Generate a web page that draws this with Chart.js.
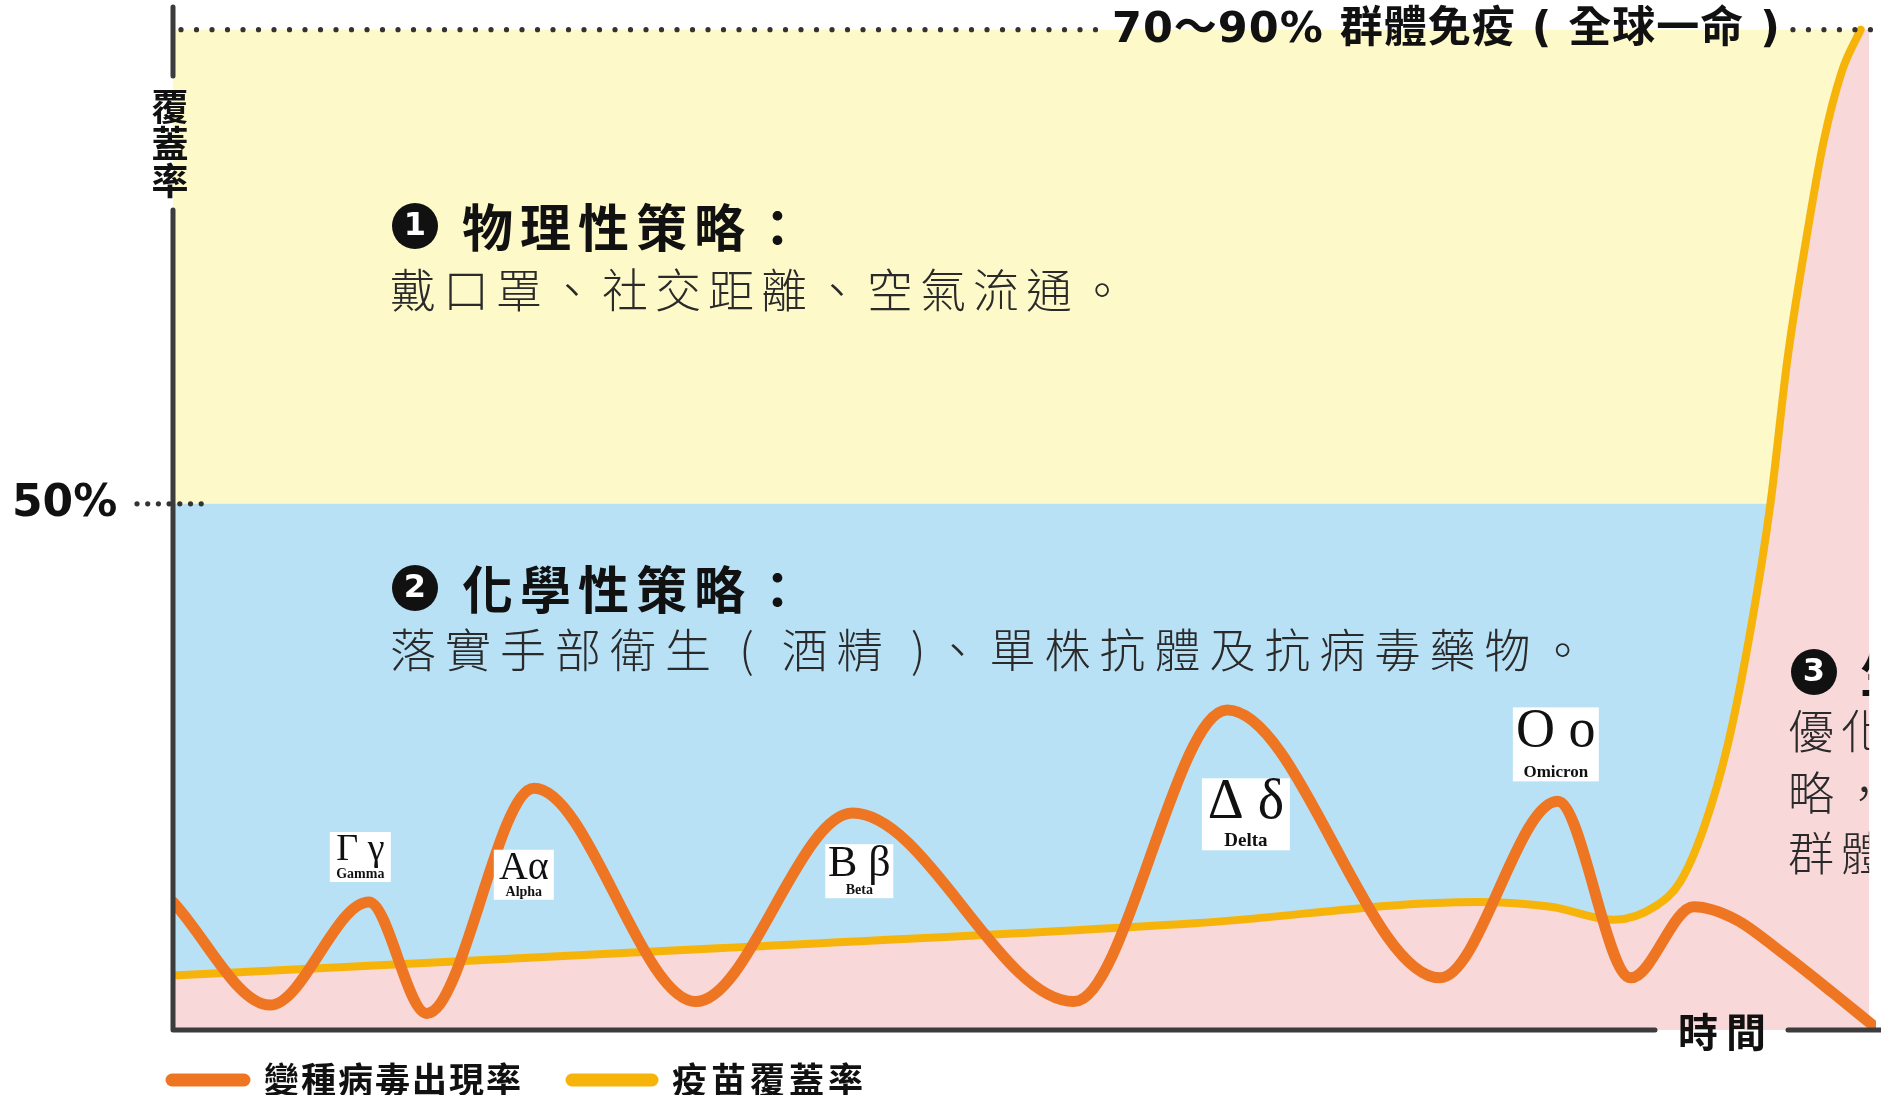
<!DOCTYPE html>
<html>
<head>
<meta charset="utf-8">
<script src="https://cdn.jsdelivr.net/npm/chart.js@4.4.1/dist/chart.umd.min.js"></script>
<style>
  html, body { margin: 0; padding: 0; background: #fff; }
  canvas { display: block; }
</style>
</head>
<body>
<canvas id="myChart" width="1881" height="1095"></canvas>
<script>
// 變種病毒出現率 (time 0-100, rate in % of the coverage scale)
const variantX = [0, 5.7, 11.5, 14.9, 21.2, 30.7, 39.9, 52.9, 61.9, 74.4, 81.3, 85.6, 89.3, 91.8, 94.5, 97.5, 99.9];
const variantY = [16.4, 7.7, 16.4, 7.0, 26.0, 8.0, 23.9, 8.0, 32.6, 10.0, 24.9, 10.0, 16.0, 14.9, 12.1, 8.7, 5.9];

// 疫苗覆蓋率
const vaccineX = [0, 32, 60, 76.6, 80.9, 84.6, 87.1, 88.5, 89.9, 91.3, 92.7, 93.8, 94.8, 95.9, 96.9, 98.0, 99.1];
const vaccineY = [10.2, 12.5, 14.6, 16.4, 16.0, 14.9, 16.1, 18.1, 22.7, 29.7, 39.9, 50.0, 62.2, 72.3, 80.4, 86.5, 90.0];

// strategy bands
const bandTop = 90;
const bandMid = 50;
const bandEnd = 99.6;

// variant labels
const variantNames = ['Gamma', 'Alpha', 'Beta', 'Delta', 'Omicron'];
const variantGlyphs = ['Γ γ', 'Αα', 'Β β', 'Δ δ', 'Ο ο'];
const labelX = [11.0, 20.6, 40.3, 63.0, 81.2];
const labelY = [20.2, 18.7, 19.0, 23.8, 29.7];

const seriesNames = ['變種病毒出現率', '疫苗覆蓋率'];

const ORANGE = '#ee7623';
const GOLD = '#f6b40a';
const AXIS = '#3c3b3d';
const CJK = '"Noto Sans CJK TC", "Noto Sans CJK SC", sans-serif';
const SERIF = '"Liberation Serif", "DejaVu Serif", serif';

function pts(xs, ys) {
    return xs.map((v, i) => ({ x: v, y: ys[i] }));
}

function dots(ctx, x0, x1, yy, step, r) {
    ctx.fillStyle = '#333';
    for (let px = x0; px <= x1; px += step) {
        ctx.beginPath();
        ctx.arc(px, yy, r, 0, Math.PI * 2);
        ctx.fill();
    }
}

function badge(ctx, cx, cy, num) {
    ctx.fillStyle = '#111';
    ctx.beginPath();
    ctx.arc(cx, cy, 23, 0, Math.PI * 2);
    ctx.fill();
    ctx.fillStyle = '#fff';
    ctx.font = 'bold 32px "DejaVu Sans"';
    ctx.textAlign = 'center';
    ctx.textBaseline = 'middle';
    ctx.letterSpacing = '0px';
    ctx.fillText(num, cx, cy + 1);
}

const decor = {
    id: 'decor',
    afterDatasetsDraw(chart) {
        const { ctx, chartArea, scales: { x, y } } = chart;
        const left = chartArea.left, bottom = chartArea.bottom;
        const topY = y.getPixelForValue(bandTop);
        const midY = y.getPixelForValue(bandMid);
        ctx.save();

        // axes
        ctx.strokeStyle = AXIS;
        ctx.lineWidth = 5;
        ctx.lineCap = 'round';
        ctx.lineJoin = 'round';
        ctx.beginPath();
        ctx.moveTo(left, chartArea.top + 1);
        ctx.lineTo(left, 76);
        ctx.stroke();
        ctx.beginPath();
        ctx.moveTo(left, 210);
        ctx.lineTo(left, bottom);
        ctx.lineTo(1655, bottom);
        ctx.stroke();
        ctx.beginPath();
        ctx.moveTo(1788, bottom);
        ctx.lineTo(1885, bottom);
        ctx.stroke();

        // y axis title
        ctx.fillStyle = '#111';
        ctx.font = 'bold 37px ' + CJK;
        ctx.textAlign = 'center';
        ctx.textBaseline = 'middle';
        ['覆', '蓋', '率'].forEach((c, i) => ctx.fillText(c, left - 3, 107 + i * 37));

        // x axis title
        ctx.font = 'bold 40px ' + CJK;
        ctx.letterSpacing = '8px';
        ctx.fillText('時間', 1726, bottom + 2);
        ctx.letterSpacing = '0px';

        // 50% marker
        ctx.textAlign = 'left';
        ctx.font = 'bold 44px "DejaVu Sans"';
        ctx.fillText('50%', 12, midY + 1);
        dots(ctx, 137, 205, midY, 10.7, 2.6);

        // top herd immunity line
        ctx.fillStyle = '#111';
        ctx.font = 'bold 43px "DejaVu Sans", ' + CJK;
        ctx.letterSpacing = '1px';
        const herd = '70～90% 群體免疫 ( 全球一命 )';
        const hx = 1112;
        const hw = ctx.measureText(herd).width;
        ctx.fillText(herd, hx, topY + 1);
        ctx.letterSpacing = '0px';
        dots(ctx, left + 8, hx - 14, topY, 15.5, 2.6);
        dots(ctx, hx + hw + 12, 1885, topY, 15.5, 2.6);

        // strategy text 1 and 2
        badge(ctx, 415, 226, '1');
        badge(ctx, 415, 588, '2');
        ctx.fillStyle = '#111';
        ctx.textAlign = 'left';
        ctx.textBaseline = 'middle';
        ctx.font = 'bold 51px ' + CJK;
        ctx.letterSpacing = '7px';
        ctx.fillText('物理性策略：', 462, 228);
        ctx.fillText('化學性策略：', 462, 590);
        ctx.font = '300 46px ' + CJK;
        ctx.fillStyle = '#2a2a2a';
        ctx.letterSpacing = '7px';
        ctx.fillText('戴口罩、社交距離、空氣流通。', 390, 290);
        ctx.letterSpacing = '9px';
        ctx.fillText('落實手部衛生 ( 酒精 )、單株抗體及抗病毒藥物。', 390, 650);

        // strategy text 3 (cut at the right edge)
        ctx.save();
        ctx.beginPath();
        ctx.rect(0, 0, x.getPixelForValue(bandEnd), 1095);
        ctx.clip();
        badge(ctx, 1814, 672, '3');
        ctx.fillStyle = '#111';
        ctx.textAlign = 'left';
        ctx.font = 'bold 51px ' + CJK;
        ctx.letterSpacing = '7px';
        ctx.fillText('生物性策略：', 1860, 674);
        ctx.font = '300 46px ' + CJK;
        ctx.letterSpacing = '7px';
        ctx.fillStyle = '#2a2a2a';
        ctx.fillText('優化疫苗接種策', 1788, 731);
        ctx.fillText('略，加速達成', 1788, 793);
        ctx.fillText('群體免疫。', 1788, 853);
        ctx.restore();
        ctx.letterSpacing = '0px';

        // variant labels
        const boxStyle = [
            { w: 61, h: 50, g: 38, n: 14 },
            { w: 60, h: 50, g: 40, n: 14 },
            { w: 68, h: 54, g: 44, n: 14 },
            { w: 88, h: 72, g: 56, n: 19 },
            { w: 86, h: 74, g: 54, n: 17 }
        ];
        labelX.forEach((lx, i) => {
            const cx = x.getPixelForValue(lx);
            const cy = y.getPixelForValue(labelY[i]);
            const s = boxStyle[i];
            const top = cy - s.h / 2;
            ctx.fillStyle = '#fff';
            ctx.fillRect(cx - s.w / 2, top, s.w, s.h);
            ctx.fillStyle = '#111';
            ctx.textAlign = 'center';
            ctx.textBaseline = 'alphabetic';
            ctx.font = s.g + 'px ' + SERIF;
            ctx.fillText(variantGlyphs[i], cx, top + 3 + s.g * 0.66);
            ctx.font = 'bold ' + s.n + 'px ' + SERIF;
            ctx.fillText(variantNames[i], cx, top + s.h - 4);
        });

        // legend
        const ds = chart.data.datasets;
        const legendY = 1080;
        const items = [
            { x0: 172, x1: 244, tx: 264, sp: 2, color: ds[0].borderColor, label: ds[0].label },
            { x0: 572, x1: 652, tx: 672, sp: 4, color: ds[1].borderColor, label: ds[1].label }
        ];
        items.forEach(it => {
            ctx.strokeStyle = it.color;
            ctx.lineWidth = 13;
            ctx.lineCap = 'round';
            ctx.beginPath();
            ctx.moveTo(it.x0, legendY);
            ctx.lineTo(it.x1, legendY);
            ctx.stroke();
            ctx.fillStyle = '#111';
            ctx.textAlign = 'left';
            ctx.textBaseline = 'middle';
            ctx.font = 'bold 35px ' + CJK;
            ctx.letterSpacing = it.sp + 'px';
            ctx.fillText(it.label, it.tx, legendY);
        });
        ctx.restore();
    }
};

const ctx = document.getElementById('myChart').getContext('2d');
new Chart(ctx, {
    type: 'line',
    data: {
        datasets: [
            {
                label: seriesNames[0],
                data: pts(variantX, variantY),
                borderColor: ORANGE,
                borderWidth: 11,
                borderCapStyle: 'round',
                borderJoinStyle: 'round',
                cubicInterpolationMode: 'monotone',
                fill: false,
                order: 0
            },
            {
                label: seriesNames[1],
                data: pts(vaccineX, vaccineY),
                borderColor: GOLD,
                borderWidth: 8,
                borderCapStyle: 'round',
                cubicInterpolationMode: 'monotone',
                fill: false,
                order: 1
            },
            {
                label: 'pink',
                data: pts(vaccineX, vaccineY).concat([{ x: bandEnd, y: bandTop }]),
                borderWidth: 0,
                backgroundColor: '#f9d8da',
                cubicInterpolationMode: 'monotone',
                fill: 'start',
                order: 2
            },
            {
                label: 'blue',
                data: [{ x: 0, y: bandMid }, { x: bandEnd, y: bandMid }],
                borderWidth: 0,
                backgroundColor: '#b8e1f6',
                fill: 'start',
                order: 3
            },
            {
                label: 'yellow',
                data: [{ x: 0, y: bandTop }, { x: bandEnd, y: bandTop }],
                borderWidth: 0,
                backgroundColor: '#fef9c8',
                fill: { value: bandMid },
                order: 4
            }
        ]
    },
    options: {
        responsive: false,
        animation: false,
        devicePixelRatio: 1,
        layout: { padding: { left: 173, right: 5, top: 6, bottom: 65 } },
        scales: {
            x: { type: 'linear', min: 0, max: 100, display: false },
            y: { min: 5.6, max: 92, display: false }
        },
        elements: { point: { radius: 0 } },
        plugins: {
            legend: { display: false },
            tooltip: { enabled: false }
        }
    },
    plugins: [decor]
});
</script>
</body>
</html>
